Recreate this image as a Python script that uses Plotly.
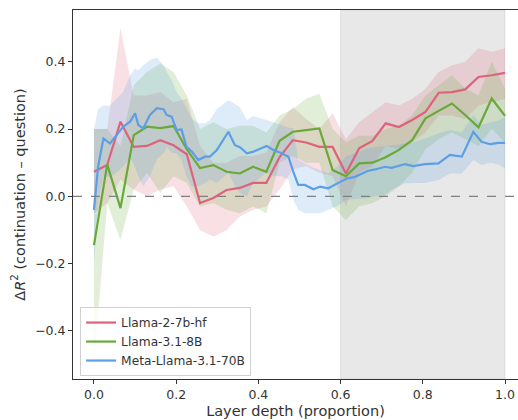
import plotly.graph_objects as go

# ---- data ----
n32 = 32
x32 = [i / 31 for i in range(n32)]

red_name = "Llama-2-7b-hf"
red_y = [0.073, 0.093, 0.222, 0.147, 0.150, 0.167, 0.152, 0.125, -0.020, -0.005,
         0.019, 0.025, 0.040, 0.040, 0.117, 0.167, 0.160, 0.147, 0.147, 0.068,
         0.143, 0.165, 0.217, 0.206, 0.227, 0.251, 0.308, 0.310, 0.318, 0.355,
         0.360, 0.367]
red_hi = [0.20, 0.20, 0.50, 0.30, 0.30, 0.31, 0.28, 0.29, 0.15, 0.10,
          0.10, 0.12, 0.12, 0.13, 0.22, 0.266, 0.23, 0.20, 0.247, 0.17,
          0.22, 0.25, 0.28, 0.27, 0.29, 0.32, 0.37, 0.39, 0.40, 0.44,
          0.43, 0.44]
red_lo = [-0.05, -0.02, 0.05, 0.02, 0.00, 0.02, 0.03, -0.03, -0.10, -0.12,
          -0.10, -0.06, -0.04, -0.03, 0.02, 0.08, 0.09, 0.07, 0.06, -0.03,
          0.07, 0.09, 0.15, 0.14, 0.16, 0.19, 0.24, 0.24, 0.23, 0.27,
          0.28, 0.29]

green_name = "Llama-3.1-8B"
green_y = [-0.145, 0.095, -0.035, 0.182, 0.207, 0.203, 0.209, 0.140, 0.084, 0.093,
           0.073, 0.068, 0.088, 0.073, 0.165, 0.192, 0.197, 0.202, 0.078, 0.060,
           0.098, 0.100, 0.116, 0.138, 0.167, 0.232, 0.254, 0.276, 0.242, 0.205,
           0.291, 0.239]
green_hi = [0.20, 0.20, 0.15, 0.33, 0.37, 0.395, 0.37, 0.30, 0.20, 0.22,
            0.20, 0.21, 0.21, 0.19, 0.24, 0.26, 0.29, 0.305, 0.20, 0.16,
            0.18, 0.18, 0.20, 0.21, 0.24, 0.30, 0.33, 0.36, 0.32, 0.30,
            0.40, 0.32]
green_lo = [-0.50, -0.02, -0.13, 0.02, 0.07, 0.01, 0.06, 0.04, -0.03, -0.02,
            -0.04, -0.05, -0.03, -0.05, 0.10, 0.12, 0.10, 0.10, -0.03, -0.07,
            -0.03, -0.02, 0.00, 0.03, 0.07, 0.14, 0.17, 0.19, 0.17, 0.15,
            0.20, 0.16]

blue_name = "Meta-Llama-3.1-70B"
blue_x = [0.0, 0.01, 0.023, 0.039, 0.055, 0.071, 0.088, 0.1, 0.108, 0.12,
          0.136, 0.153, 0.169, 0.177, 0.189, 0.201, 0.213, 0.225, 0.238, 0.254,
          0.27, 0.282, 0.299, 0.327, 0.343, 0.355, 0.372, 0.388, 0.42, 0.436,
          0.457, 0.473, 0.485, 0.497, 0.513, 0.534, 0.55, 0.57, 0.59, 0.615,
          0.635, 0.667, 0.684, 0.708, 0.724, 0.757, 0.777, 0.805, 0.838, 0.866,
          0.895, 0.923, 0.943, 0.964, 0.984, 1.0]
blue_y = [-0.04, 0.088, 0.172, 0.157, 0.182, 0.207, 0.222, 0.247, 0.212, 0.202,
          0.242, 0.262, 0.259, 0.242, 0.237, 0.197, 0.199, 0.147, 0.133, 0.108,
          0.118, 0.118, 0.138, 0.192, 0.152, 0.146, 0.128, 0.133, 0.150, 0.138,
          0.128, 0.118, 0.073, 0.034, 0.034, 0.021, 0.029, 0.024, 0.037, 0.053,
          0.058, 0.076, 0.080, 0.088, 0.085, 0.096, 0.090, 0.096, 0.098, 0.123,
          0.118, 0.192, 0.162, 0.155, 0.159, 0.159]
blue_hi = [0.20, 0.26, 0.27, 0.27, 0.29, 0.31, 0.36, 0.38, 0.375, 0.39,
           0.405, 0.413, 0.39, 0.37, 0.346, 0.31, 0.29, 0.26, 0.23, 0.217,
           0.217, 0.227, 0.26, 0.286, 0.275, 0.266, 0.227, 0.239, 0.227, 0.22,
           0.212, 0.205, 0.202, 0.108, 0.098, 0.085, 0.078, 0.068, 0.088, 0.12,
           0.128, 0.143, 0.146, 0.15, 0.152, 0.157, 0.16, 0.172, 0.187, 0.197,
           0.19, 0.242, 0.212, 0.22, 0.225, 0.237]
blue_lo = [-0.20, -0.016, 0.058, 0.058, 0.07, 0.088, 0.115, 0.088, 0.06, 0.029,
           0.06, 0.11, 0.128, 0.147, 0.13, 0.128, 0.108, 0.06, 0.029, 0.03,
           0.04, 0.05, 0.04, 0.07, 0.03, 0.01, 0.0, 0.04, 0.07, 0.06,
           0.06, 0.05, -0.01, -0.04, -0.05, -0.05, -0.05, -0.04, -0.03, -0.01,
           -0.008, -0.006, 0.0, 0.005, 0.02, 0.039, 0.04, 0.04, 0.048, 0.068,
           0.068, 0.108, 0.093, 0.1, 0.095, 0.083]

x_ticks = [0.0, 0.2, 0.4, 0.6, 0.8, 1.0]
y_ticks = [-0.4, -0.2, 0.0, 0.2, 0.4]
shade_range = [0.6, 1.0]

# ---- styling ----
series = [
    (red_name, x32, red_y, red_lo, red_hi, (221, 99, 124)),
    (green_name, x32, green_y, green_lo, green_hi, (106, 168, 58)),
    (blue_name, blue_x, blue_y, blue_lo, blue_hi, (92, 158, 232)),
]

fig = go.Figure()

for name, xs, ys, lo, hi, c in series:
    fig.add_trace(go.Scatter(
        x=list(xs) + list(xs)[::-1], y=list(hi) + list(lo)[::-1],
        fill="toself", fillcolor=f"rgba({c[0]},{c[1]},{c[2]},0.2)",
        line=dict(width=0), hoverinfo="skip", showlegend=False, mode="lines"))

for name, xs, ys, lo, hi, c in series:
    fig.add_trace(go.Scatter(
        x=xs, y=ys, mode="lines", name=name,
        line=dict(color=f"rgb({c[0]},{c[1]},{c[2]})", width=2.2)))

fig.add_shape(type="rect", xref="x", yref="paper", x0=shade_range[0], x1=shade_range[1],
              y0=0, y1=1, fillcolor="rgba(128,128,128,0.18)",
              line=dict(color="rgba(128,128,128,0.15)", width=1), layer="below")
fig.add_shape(type="line", xref="paper", yref="y", x0=0, x1=1, y0=0, y1=0,
              line=dict(color="#808080", width=1.2, dash="dash"), layer="above")

font = "DejaVu Sans, sans-serif"
fig.update_layout(
    width=518, height=420,
    margin=dict(l=73, r=0, t=10, b=41),
    paper_bgcolor="white", plot_bgcolor="white",
    font=dict(family=font, size=12, color="#333"),
    showlegend=True,
    legend=dict(x=0.016, y=0.008, xanchor="left", yanchor="bottom",
                bgcolor="rgba(255,255,255,0.8)", bordercolor="#d0d0d0", borderwidth=1,
                font=dict(size=12.2, color="#333"), tracegroupgap=0, itemwidth=30),
    xaxis=dict(range=[-0.051, 1.0316], tickvals=x_ticks,
               ticktext=[f"{v:.1f}" for v in x_ticks],
               showgrid=False, zeroline=False, showline=True, linecolor="#333",
               linewidth=1, mirror=True, ticks="outside", ticklen=4, tickcolor="#333",
               tickfont=dict(size=12.5, color="#333"),
               title=dict(text="Layer depth (proportion)", font=dict(size=14.5, color="#333"),
                          standoff=4)),
    yaxis=dict(range=[-0.543, 0.554], tickvals=y_ticks,
               ticktext=[("\u2212" if v < 0 else "") + f"{abs(v):.1f}" for v in y_ticks],
               showgrid=False, zeroline=False, showline=True, linecolor="#333",
               linewidth=1, mirror=False, ticks="outside", ticklen=4, tickcolor="#333",
               tickfont=dict(size=12.5, color="#333"),
               title=dict(text="\u0394<i>R</i><sup>2</sup> (continuation \u2013 question)",
                          font=dict(size=14.5, color="#333"), standoff=6)),
)

fig.write_html("out.html")
